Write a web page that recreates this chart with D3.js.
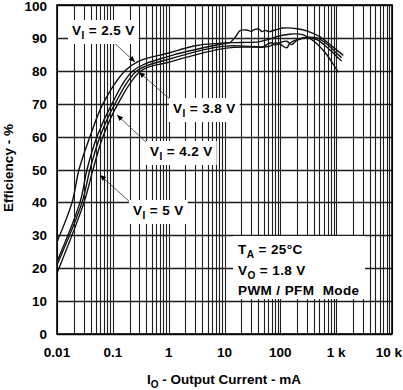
<!DOCTYPE html>
<html><head><meta charset="utf-8">
<script src="https://cdn.jsdelivr.net/npm/d3@7"></script>
<style>body{margin:0;background:#fff}svg{display:block;font-family:"Liberation Sans",Arial,sans-serif;font-weight:bold}</style>
</head><body><svg id="c" width="403" height="390"></svg>
<script>
const xTicks = [0.01, 0.1, 1, 10, 100, 1000, 10000];
const xTickLabels = ["0.01", "0.1", "1", "10", "100", "1 k", "10 k"];
const yTicks = [0,10,20,30,40,50,60,70,80,90,100];
const seriesNames = ["2.5 V", "3.8 V", "4.2 V", "5 V"];
const v25 = [[0.01,28],[0.0186,40],[0.0248,50],[0.039,60],[0.0667,70],[0.1655,80],[0.3,83],[1,85.4],[3,87.6],[10,88.5],[20,88.6],[40,88.8],[60,89.5],[80,90.2],[110,90.8],[160,91.2],[250,91],[400,89],[600,86],[850,82.5],[1090,79.5]];
const v38 = [[0.01,22],[0.0258,40],[0.0345,50],[0.0521,60],[0.0968,70],[0.23,80],[1,84.4],[10,88.3],[12.6,88.6],[16,90.5],[19,92.2],[25,92.4],[30,92],[35,92.6],[42,92.6],[47,91.9],[53,92.3],[62,91.9],[80,92.4],[112,93],[200,92.8],[315,92],[516,90.3],[883,87.2],[1340,84.7]];
const v42 = [[0.01,21],[0.0281,40],[0.039,50],[0.059,60],[0.1095,70],[0.271,80],[1,83.5],[10,87.5],[30,87.4],[50,87.3],[60,88.2],[70,88.5],[80,87.8],[100,88.6],[130,89],[160,88],[200,89.3],[300,90],[450,89.5],[700,87],[1000,84.5],[1250,83]];
const v50 = [[0.01,18.5],[0.0305,40],[0.0442,50],[0.0667,60],[0.124,70],[0.32,80],[1,82.6],[10,86.8],[30,87.2],[50,87.2],[65,87.5],[80,88.5],[100,88],[130,87],[150,88.5],[200,89.5],[300,90.2],[450,90],[700,88],[1000,85.5],[1250,84]];
const series = [v25, v38, v42, v50];

const svg = d3.select("#c");
const L=57, R=392, T=5, B=334;
const x = d3.scaleLog().domain([0.01,10000]).range([L,R]);
const y = d3.scaleLinear().domain([0,100]).range([B,T]);

// grid
const minor = [];
for (let d=-2; d<4; d++) for (let m=1; m<=9; m++) minor.push(m*Math.pow(10,d));
minor.push(10000);
const g = svg.append("g");
g.selectAll("line.v").data(minor).join("line")
  .attr("x1",d=>Math.round(x(d))+0.5).attr("x2",d=>Math.round(x(d))+0.5)
  .attr("y1",T).attr("y2",B).attr("stroke","#1e1e1e").attr("stroke-width",1.1);
g.selectAll("line.h").data(yTicks).join("line")
  .attr("x1",L).attr("x2",R).attr("y1",d=>Math.round(y(d))+0.5).attr("y2",d=>Math.round(y(d))+0.5)
  .attr("stroke","#1e1e1e").attr("stroke-width",1.4);
svg.append("rect").attr("x",L).attr("y",T).attr("width",R-L).attr("height",B-T)
  .attr("fill","none").attr("stroke","#000").attr("stroke-width",1.6);

// curves
const line = d3.line().x(d=>x(d[0])).y(d=>y(d[1])).curve(d3.curveCatmullRom.alpha(0.5));
svg.selectAll("path.s").data(series).join("path")
  .attr("d",line).attr("fill","none").attr("stroke","#111").attr("stroke-width",1.4);

// label boxes
function subText(parent, xx, yy, main, sub, rest, size){
  const t = parent.append("text").attr("x",xx).attr("y",yy).attr("font-size",size).attr("fill","#000")
    .attr("letter-spacing",0.4).attr("xml:space","preserve");
  t.append("tspan").text(main);
  t.append("tspan").attr("dy",4).attr("font-size",size*0.75).text(sub);
  t.append("tspan").attr("dy",-4).text(rest);
  return t;
}
const labels = [
  {t:seriesNames[0], tx:72, ty:35, ax1:110, ay1:39, ax2:135, ay2:62},
  {t:seriesNames[1], tx:173, ty:113, ax1:172, ay1:101, ax2:139, ay2:72},
  {t:seriesNames[2], tx:150, ty:156, ax1:148, ay1:144, ax2:117, ay2:115},
  {t:seriesNames[3], tx:133, ty:215, ax1:131, ay1:203, ax2:100, ay2:175}
];
labels.forEach(l=>{
  svg.append("line").attr("x1",l.ax1).attr("y1",l.ay1).attr("x2",l.ax2).attr("y2",l.ay2)
    .attr("stroke","#333").attr("stroke-width",0.8);
  const ang = Math.atan2(l.ay2-l.ay1, l.ax2-l.ax1);
  const s=6, w=2.6;
  const bx = l.ax2 - s*Math.cos(ang), by = l.ay2 - s*Math.sin(ang);
  const px = -Math.sin(ang)*w, py = Math.cos(ang)*w;
  svg.append("path").attr("d",`M${l.ax2},${l.ay2}L${bx+px},${by+py}L${bx-px},${by-py}Z`).attr("fill","#000");
  const gg = svg.append("g");
  const t = subText(gg, l.tx, l.ty, "V", "I", " = "+l.t, 13.5);
  const bb = t.node().getBBox();
  gg.insert("rect","text").attr("x",bb.x-4).attr("y",bb.y-3).attr("width",bb.width+8).attr("height",bb.height+6).attr("fill","#fff");
});

// condition box
svg.append("rect").attr("x",233).attr("y",236).attr("width",132).attr("height",63).attr("fill","#fff");
subText(svg, 238, 254, "T", "A", " = 25°C", 13.5);
subText(svg, 238, 275, "V", "O", " = 1.8 V", 13.5);
svg.append("text").attr("x",238).attr("y",295).attr("font-size",13.5).attr("letter-spacing",0.4)
  .attr("xml:space","preserve").text("PWM / PFM  Mode");

// axes labels
svg.selectAll("text.yt").data(yTicks).join("text")
  .attr("x",47).attr("y",d=>Math.max(y(d)+5,10.5)).attr("text-anchor","end").attr("font-size",13.5).text(d=>d);
svg.selectAll("text.xt").data(xTicks).join("text")
  .attr("x",(d,i)=>i===xTicks.length-1?402:x(d)).attr("y",357)
  .attr("text-anchor",(d,i)=>i===xTicks.length-1?"end":"middle").attr("font-size",13.5).text((d,i)=>xTickLabels[i]);
svg.append("text").attr("transform","translate(13,168) rotate(-90)").attr("text-anchor","middle")
  .attr("font-size",13.5).text("Efficiency - %");
const xt = svg.append("text").attr("x",224).attr("y",384).attr("text-anchor","middle").attr("font-size",13.5);
xt.append("tspan").text("I");
xt.append("tspan").attr("dy",4).attr("font-size",10).text("O");
xt.append("tspan").attr("dy",-4).text(" - Output Current - mA");
</script></body></html>
